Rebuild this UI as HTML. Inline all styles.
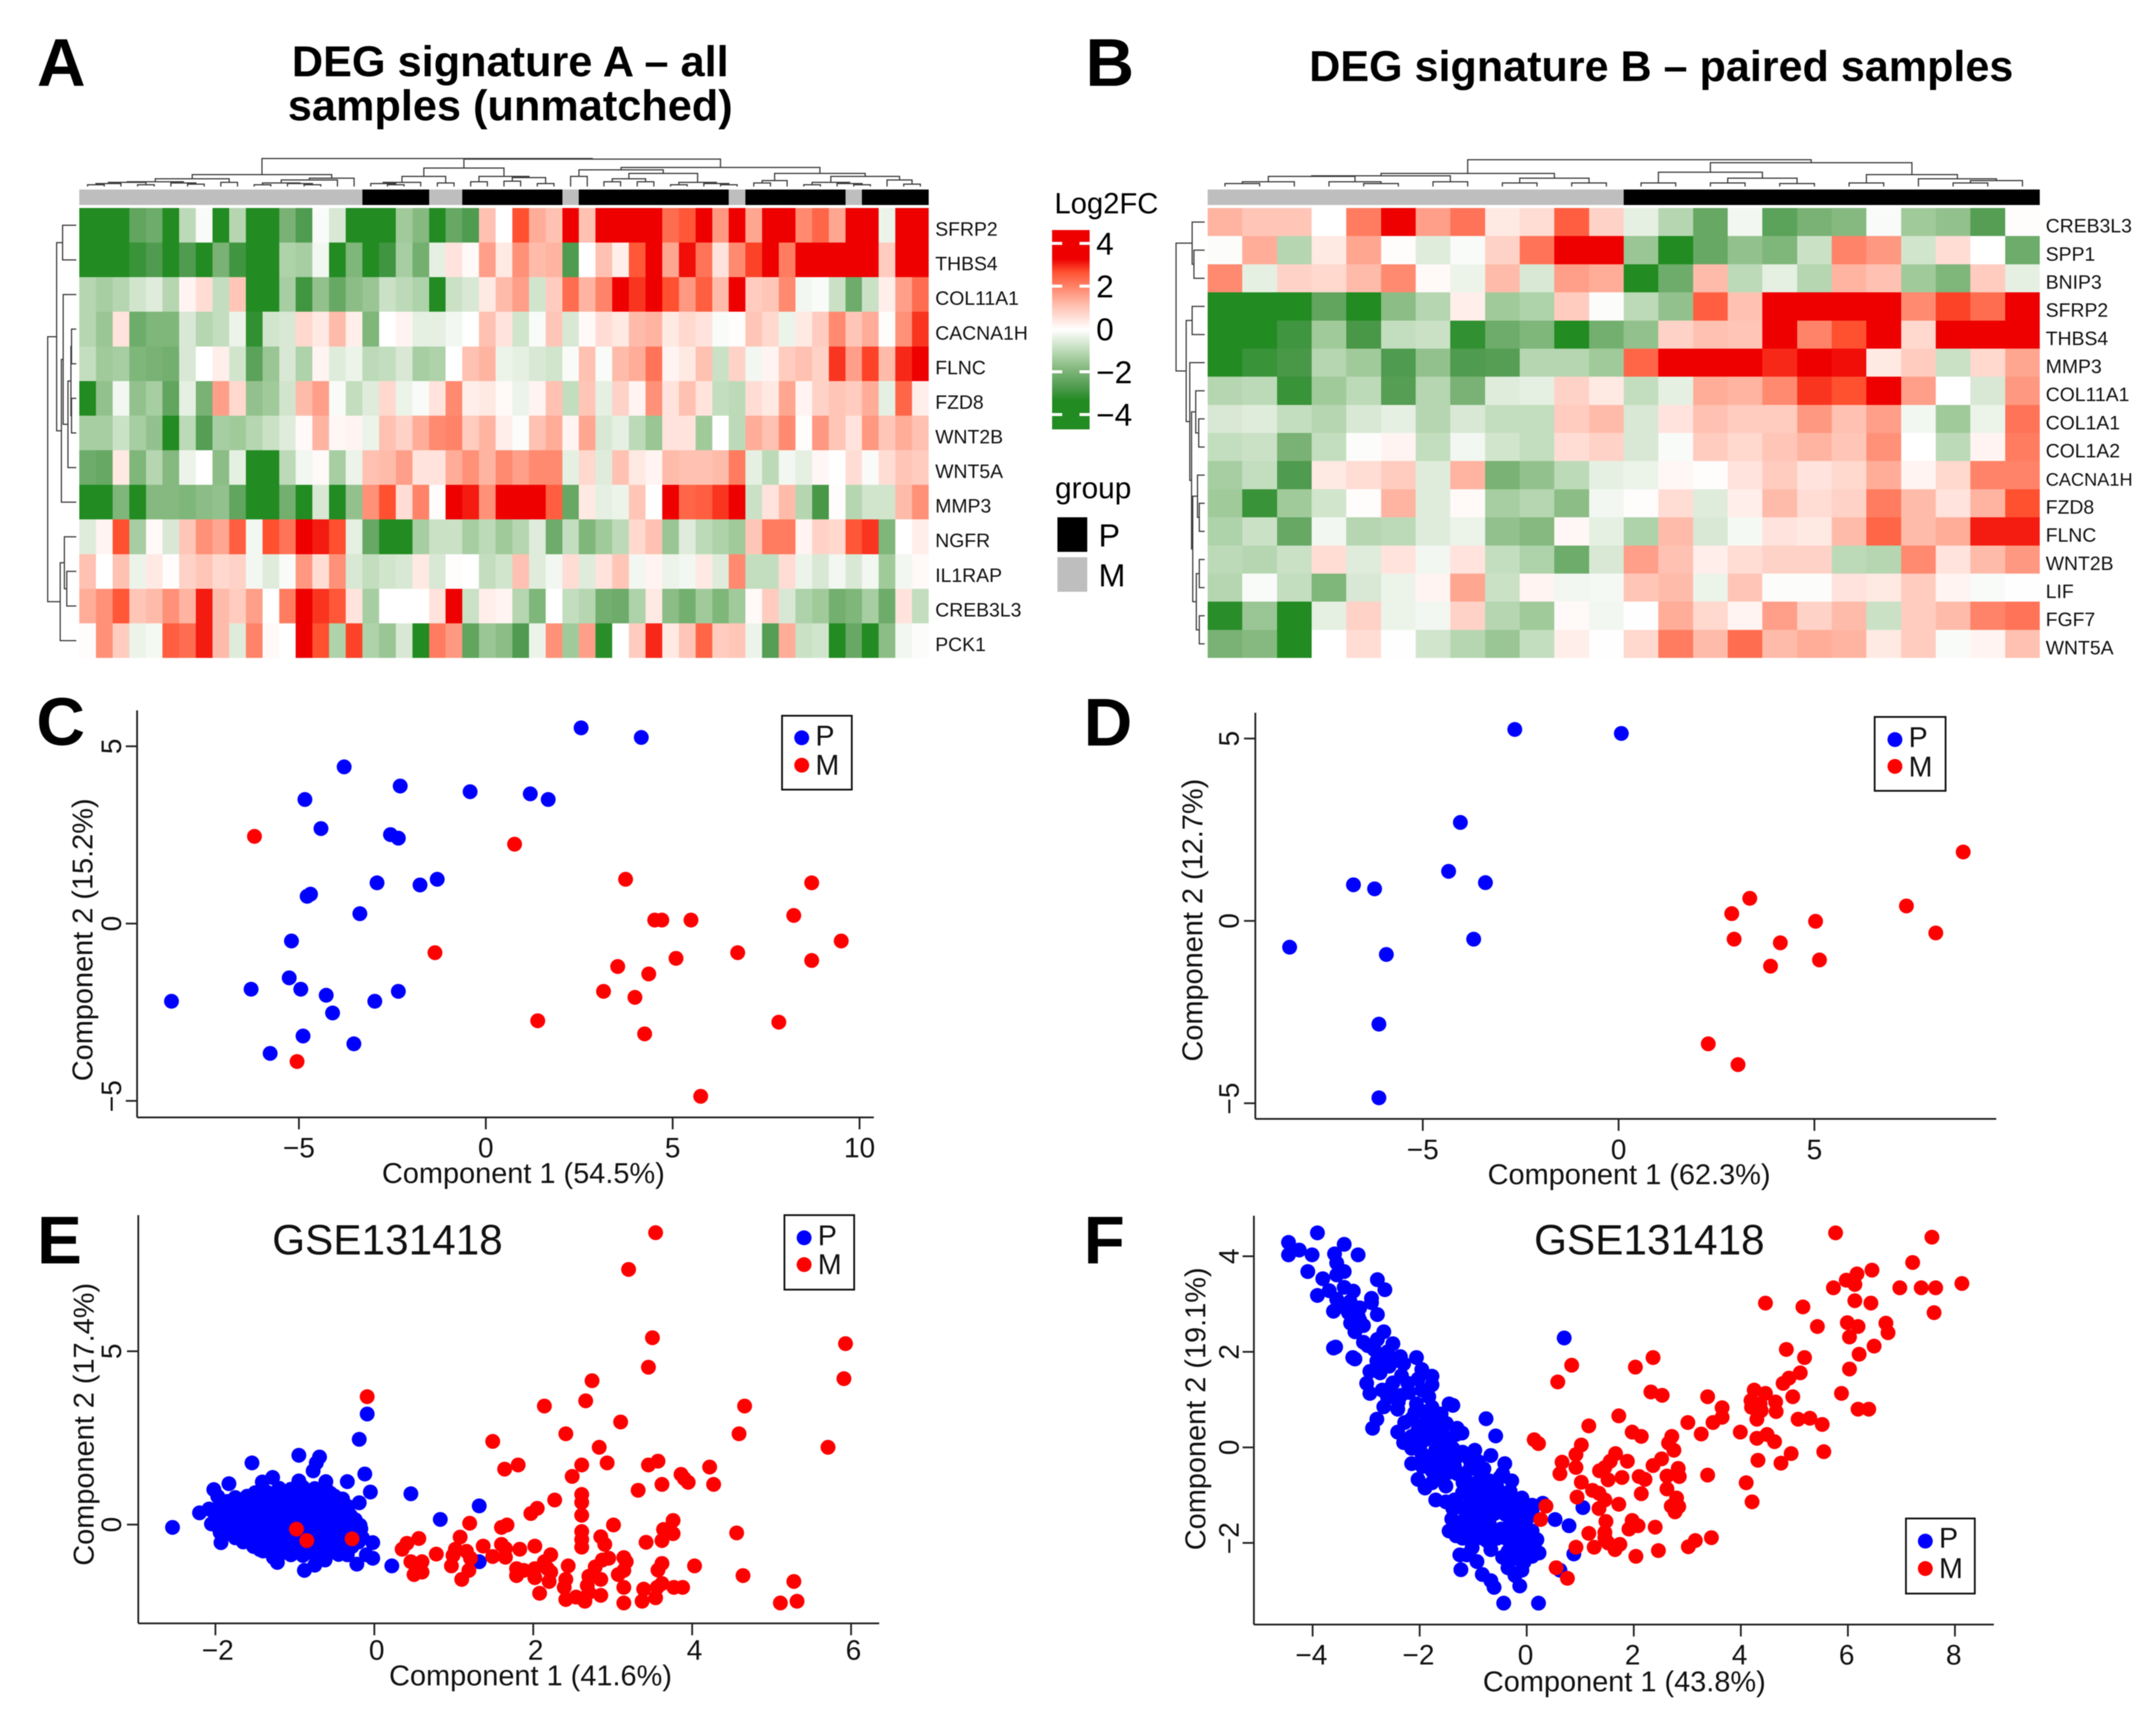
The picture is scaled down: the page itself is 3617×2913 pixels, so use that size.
<!DOCTYPE html>
<html lang="en">
<head>
<meta charset="utf-8">
<title>DEG signature heatmaps and PCA plots</title>
<style>
html,body{margin:0;padding:0;background:#fff;}
svg{display:block;font-family:"Liberation Sans",Arial,sans-serif;filter:blur(.8px);}
</style>
</head>
<body>
<svg id="fig" xmlns="http://www.w3.org/2000/svg" width="3617" height="2913" viewBox="0 0 3617 2913">
<rect width="3617" height="2913" fill="#fff"/>
<g font-weight="bold" font-size="113" fill="#000">
<text x="62" y="144">A</text>
<text x="1821" y="144">B</text>
<text x="61" y="1250">C</text>
<text x="1818" y="1251">D</text>
<text x="62" y="2120">E</text>
<text x="1818" y="2120">F</text>
</g>
<g font-weight="bold" fill="#000" text-anchor="middle">
<text x="856" y="128" font-size="72.6">DEG signature A – all</text>
<text x="856" y="202" font-size="72.6">samples (unmatched)</text>
<text x="2787" y="136" font-size="72.3">DEG signature B – paired samples</text>
</g>
<g fill="#000">
<text x="1769" y="358" font-size="49">Log2FC</text>
<text x="1770" y="836" font-size="50">group</text>
<rect x="1774" y="868" width="50" height="58" fill="#000"/>
<rect x="1774" y="935" width="50" height="58" fill="#bebebe"/>
<text x="1843" y="917" font-size="54">P</text>
<text x="1843" y="984" font-size="54">M</text>
</g>
<g id="layer"></g>
</svg>
<script>
// ---------- Heatmap A data ----------
const aGenes = ["SFRP2","THBS4","COL11A1","CACNA1H","FLNC","FZD8","WNT2B","WNT5A","MMP3","NGFR","IL1RAP","CREB3L3","PCK1"];
const aGroups = "MMMMMMMMMMMMMMMMMPPPPMMPPPPPPMPPPPPPPPPMPPPPPPMPPPP".split("");
const aValues = [
[-3.5,-3.5,-3.5,-2.4,-2.2,-3.5,-1,-.1,-3.5,-1.1,-3.5,-3.5,-2,-2.7,-.1,-.6,-3.5,-3.5,-3.5,-1.4,-1.8,-3.5,-2.3,-2.7,1.1,0,2.7,1.4,1.1,3.6,1.1,3.3,3.6,3.6,3.6,2.3,2.6,3.6,1.7,3.6,1.5,3.6,3.6,1.9,2.4,1.5,3.6,3.5,-.3,3.6,3.6],
[-3.5,-3.5,-3.5,-3,-2.7,-3.5,-2.7,-3.5,-2,-2.9,-3.5,-3.5,-1.2,-1.3,-.2,-3.5,-1.9,-3.5,-2.9,-1.3,-2.1,-.4,.5,.1,1.6,.4,1.8,1.2,1.3,-2.7,0,1.1,.3,2.6,3.6,1.5,3.2,2.2,.5,1.9,2.8,3.6,2.1,3.6,3.6,3.6,3.6,3.6,.9,3.6,3.6],
[-1.1,-1.3,-1.1,-.7,-.5,-1.1,.2,.6,-.9,1,-3.3,-3.5,-1.3,-2.9,-1.6,-2.3,-1.7,-1.5,-.8,-1,-1.2,-3.5,-.8,-.6,.4,1.2,1.6,-.7,.9,2.3,1.3,2,3.6,2.9,3.4,2.7,1.7,2.5,1.2,3.6,.9,1,1.9,-.2,-.1,-.8,-2.2,-.8,.3,1.6,2.3],
[-1.1,-1.5,.5,-2.2,-1.9,-1.9,-.6,-1.1,-.9,-.3,-3.1,-.7,-.6,.7,.4,1.2,.3,-1.9,0,.2,-.4,-.4,-.2,0,1.1,.5,-.7,-.1,1,-.6,.1,.6,.4,1.2,1.3,.4,.7,.5,-.1,.05,1,.7,-.3,.4,.9,1.9,1,1.4,.05,1.8,2.9],
[-.9,-1.4,-1.3,-1.9,-2,-2.1,-.6,0,.3,-.7,-2.5,-1.5,-.6,-1.2,.2,-.5,-.3,-1,-.9,-.6,-1.3,-1.2,0,1.1,1.3,-.3,-.4,-.6,-.7,-.1,1.1,-.1,1.2,1.4,2.2,.2,.4,1.1,-.8,.8,-.2,.2,.9,1.1,.8,2.9,1.6,2.8,1.2,3,3.6],
[-3.5,-1.6,-.2,-1.6,-1.3,-2.4,-.4,-2,1.6,.7,-1.6,-1.4,-.7,1.2,1.6,-.1,-.9,-.5,.7,-.3,-.1,.5,1.9,.3,.4,.1,-.3,.2,1.1,-.9,1,-.4,.8,.2,1.8,.5,1.1,.5,-.9,-1,.6,.4,1.5,.2,.8,1,.9,1.4,-.4,2.4,.3],
[-1.3,-1.3,-.8,-1.3,-1.6,-3.5,-1,-2.6,-1.3,-1.4,-1.1,-.8,-.5,.1,1.3,.15,.2,-.3,1.1,.8,1.4,1.9,2,.9,1.3,.3,-.05,1.1,1.4,.2,1.5,-.6,-.4,-1,-1.5,.5,.5,-1.4,0,-1,1.4,1.1,1.9,.05,1.7,1,.5,1.7,1,1.4,1.1],
[-2.2,-2.3,.4,-1.9,-1.1,-1.8,-.3,0,-1.7,-.4,-3.5,-3.5,-1,-.2,.1,-1.3,-.3,1.1,1.2,1.6,.5,.5,1.4,1.8,1.3,1.9,1.6,1.9,1.9,-.4,.7,-.5,1.1,.4,.2,1.2,1.1,1.1,1.2,2.1,-.4,-1,-.2,-.4,.15,0,.6,-.1,.6,1,.9],
[-3.5,-3.5,-1.9,-3.5,-1.8,-1.8,-1.9,-1.7,-1.6,-2.4,-3.5,-3.5,-2.1,-3.5,-.6,-3.5,-1.6,1.8,2.7,.6,2,.05,3.6,3.1,1.8,3.6,3.6,3.6,2.5,-2.3,.4,-.4,-.3,1,0,3.6,2.4,2.5,2.9,3.6,-.8,.5,1.2,-1.1,-2.8,.05,-1.1,-.7,-.7,1.2,1.8],
[-.5,.2,2.7,-1.3,.1,-.6,1,1.8,1.5,2.5,-.2,2.7,2.2,3.6,3.1,2.7,-.4,-2.3,-3.5,-3.5,-1.3,-.8,-.8,-1.3,-1,-1.4,-1.1,-.5,-2.2,-.9,-1.9,-1.4,-1,.7,1.1,-1.5,-.5,-1,-1.2,-1.4,1,2.1,2.1,.2,.8,.7,2.6,2.9,-1.9,0,.3],
[1.1,0,1.1,-.3,.4,.05,.8,1,.7,.8,-.2,-.5,-.1,1.7,.6,1.8,-.6,-.9,-.7,-.6,.4,-.6,.05,0,-.9,-.7,1.1,-.5,-.2,.6,-.5,.5,1,-.2,.2,-.3,-.2,.4,-.5,1.9,-.9,-.9,.6,-.3,-.6,-.2,-.6,-.2,-1.4,-.2,.1],
[1.4,1.8,2.6,1,1.2,1.8,1.3,3.1,1.2,.9,1.6,0,2.1,3.6,2.9,2.6,.5,-1.3,0,0,0,.5,3.6,-.8,.3,.2,-1.1,-1.9,0,-.9,-1.1,-2.1,-2.2,-1.2,.4,-1.7,-2.1,-1.4,-1.9,-1.4,.1,.9,-.6,-1.2,-1.4,-2.1,-1.9,-1.3,-2.2,.5,-.9],
[.05,1.8,.9,-.3,-.15,2.5,2.3,3.1,1.2,-.5,2,.1,0,3.6,2.7,-1.2,2.8,-1.2,-1.5,-.6,-3.5,2.1,1.7,-2.4,-1.5,-1.7,-2.7,-.3,1.8,-1.4,1.6,-3.2,0,.9,3,.4,1,2.4,.9,1,-.3,-2.6,1.4,-.8,-.7,-3.5,-2.3,-3.5,-1.7,-.2,-.05]
];
// Merge trees: [merge height, left child, right child]; 0 is a leaf.
const aColumnTree = [47,[20,[13,[8,[7,[5,[3,0,0],0],[3,0,0]],[6,0,[4,0,0]]],[7,0,0]],[14,[11,[6,[3,0,0],[5,0,[3,0,0]]],0],0]],[46,[31,[17,[7,[5,0,[3,0,0]],0],[6,0,0]],[17,[8,0,0],[15,[9,0,0],[5,0,0]]]],[32,[28,[17,0,0],[22,[13,[8,0,0],[8,0,0]],[7,[3,0,0],[5,0,[3,0,0]]]]],[22,[10,[6,0,0],0],[17,[7,[3,0,0],[5,0,[3,0,0]]],[11,0,[4,0,0]]]]]]];
const aRowTree = [48,[33,[23,0,0],[25,[22,0,[14,[9,[8,0,0],[8,0,0]],0]],0]],[27,[20,0,[16,0,0]],0]];

// ---------- Heatmap B data ----------
const bGenes = ["CREB3L3","SPP1","BNIP3","SFRP2","THBS4","MMP3","COL11A1","COL1A1","COL1A2","CACNA1H","FZD8","FLNC","WNT2B","LIF","FGF7","WNT5A"];
const bGroups = "MMMMMMMMMMMMPPPPPPPPPPPP".split("");
const bValues = [
[1.3,1,1,0,2.1,3.6,1.6,2.2,.4,.6,2.5,.8,-.4,-1.1,-2.3,-.2,-2.5,-2,-1.8,-.1,-1.4,-1.6,-2.6,.05],
[-.05,1.4,-1.1,.4,1.5,.05,-.5,-.1,.8,2.2,3.6,3.6,-1.5,-3.5,-2.3,-1.6,-1.9,-.8,2,1.7,-.7,.6,0,-2.2],
[1.9,-.4,.8,.7,1.2,1.9,.1,-.3,1.2,-.6,1.6,1.4,-3.5,-2.2,1.2,-1,-.4,-1.1,1.3,1.1,-1.4,-1.9,.9,-.4],
[-3.5,-3.5,-3.5,-2.4,-3.5,-1.7,-1.1,.3,-1.4,-1.2,.9,-.05,-1,-1.6,2.5,1.1,3.6,3.6,3.6,3.6,1.9,2.8,2.3,3.6],
[-3.5,-3.5,-2.9,-1.4,-2.8,-.9,-.8,-3.1,-2.2,-1.9,-3.5,-2.1,-1.6,.8,1.1,1,3.6,2,2.7,3.6,.7,3.6,3.6,3.6],
[-3.5,-3,-2.8,-1.1,-1.4,-2.7,-1.6,-2.7,-2.6,-1.1,-1.1,-1.4,2.4,3.6,3.6,3.6,3,3.6,3.2,.4,.9,-.8,.7,1.5],
[-1.1,-1,-3,-1.4,-1,-2.6,-1.1,-2,-.5,-.4,.8,.4,-.9,-.4,1.4,1.3,1.9,2.9,2.7,3.6,1.6,0,-.6,1.7],
[-.6,-.5,-.9,-1.1,-.6,-.4,-1.1,-.6,-.9,-.9,.9,1.2,-.6,.5,1.1,.9,.9,1.7,1.1,1.6,-.2,-1.4,-.3,2.2],
[-.9,-.8,-2,-.9,-.05,.2,-.9,-.2,-.7,-.9,.6,.8,-.6,-.1,.9,.7,1,1.3,1,1.8,0,-1,.2,2.1],
[-1.3,-.9,-2.7,.4,.6,.9,-.5,1.3,-2,-1.6,-1,-.4,-.3,.15,.05,.5,.9,.5,.7,1.4,.2,.7,2,2],
[-1.4,-3,-1.4,-.7,.05,1.3,-.5,.1,-1.3,-1.1,-1.7,-.2,.05,.6,-.5,.3,1.2,.6,.8,2.1,1.2,.5,1.3,2.7],
[-1.2,-.8,-2.3,-.2,-1.1,-1,-.5,-.3,-1.6,-1.8,.15,-.4,-1.2,1.2,-.6,-.15,.5,.4,1.2,2.4,1.2,1.4,3.1,3.1],
[-1,-1.1,-.8,.6,-.5,.5,-.2,.5,-.9,-1.2,-2.2,-.6,1.6,1.1,.3,.6,.8,.8,-1,-1.1,1.9,.5,1.2,1.7],
[-1.1,-.1,-.9,-1.9,-.6,-.3,.2,1.5,-.8,.2,-.2,-.15,1,1.2,-.3,1,-.05,-.05,.5,.4,.9,.2,-.1,.02],
[-3.2,-1.5,-3.5,-.4,.8,-.3,-.2,.8,-1.1,-1.4,.1,-.2,.02,1.4,.7,.2,1.6,.8,1.2,-.8,.9,1.2,2,2.2],
[-2,-1.8,-3.5,0,.6,.02,-.7,-1.1,-1.5,-.9,.3,-.02,.7,2.1,1.2,2.3,1.2,1.4,1.3,.4,.9,-.1,.2,1.1]
];
const bColumnTree = [45,[22,[18,[17,[8,[5,0,0],0],[8,0,[5,0,0]]],[8,0,0]],[14,[6,0,0],[6,0,0]]],[40,[24,[6,0,0],[14,[6,0,0],[5,0,0]]],[20,[6,0,0],[13,0,[10,[6,0,0],0]]]]];
const bRowTree = [48,[21,0,[18,0,0]],[31,[21,0,0],[25,0,[22,[15,0,[10,0,0]],[20,[12,0,[9,0,0]],[14,[9,0,0],[9,0,0]]]]]]];

// ---------- Colour scale ----------
const colorbarTicks = [4,2,0,-2,-4];

// ---------- PCA C ----------
const cTicksX = [-5,0,5,10];
const cTicksY = [-5,0,5];
const cPrimary = [[2.55,5.52],[4.16,5.25],[-3.79,4.42],[-2.29,3.88],[-.42,3.72],[1.19,3.66],[1.67,3.5],[-4.84,3.5],[-4.41,2.68],[-2.55,2.51],[-2.34,2.41],[-2.91,1.15],[-1.76,1.09],[-1.3,1.25],[-4.69,.83],[-4.78,.77],[-3.37,.28],[-5.2,-.49],[-5.26,-1.53],[-6.28,-1.85],[-4.95,-1.85],[-4.27,-2.02],[-2.34,-1.91],[-2.97,-2.19],[-4.1,-2.52],[-4.89,-3.17],[-3.53,-3.39],[-5.77,-3.66],[-8.41,-2.19]];
const cMetastasis = [[-6.19,2.46],[.77,2.24],[3.74,1.25],[8.72,1.15],[8.24,.23],[4.52,.1],[4.71,.1],[5.49,.1],[9.51,-.49],[6.74,-.82],[-1.36,-.82],[5.09,-.98],[8.72,-1.04],[3.53,-1.21],[4.36,-1.42],[3.15,-1.91],[3.99,-2.08],[1.39,-2.74],[7.84,-2.78],[4.25,-3.11],[-5.05,-3.89],[5.75,-4.87]];

// ---------- PCA D ----------
const dTicksX = [-5,0,5];
const dTicksY = [-5,0,5];
const dPrimary = [[-2.65,5.25],[.07,5.14],[-4.04,2.7],[-4.34,1.36],[-3.4,1.05],[-6.77,.99],[-6.23,.88],[-3.7,-.5],[-8.4,-.72],[-5.93,-.92],[-6.12,-2.83],[-6.12,-4.85]];
const dMetastasis = [[8.8,1.89],[3.35,.62],[2.89,.2],[7.35,.41],[5.03,-.01],[8.1,-.33],[2.95,-.5],[4.13,-.6],[5.13,-1.07],[3.88,-1.24],[2.29,-3.37],[3.05,-3.94]];

// ---------- PCA E ----------
const eTicksX = [-2,0,2,4,6];
const eTicksY = [0,5];
const ePrimary = [[-2.54,-.08],[-.09,3.19],[-.19,2.46],[-.95,2],[-.69,1.95],[-.73,1.78],[-1.54,1.78],[-.77,1.55],[-.12,1.46],[-1.28,1.36],[-.95,1.26],[-1.41,1.23],[-1.83,1.18],[-.61,1.24],[-.34,1.24],[-2.02,1.01],[-1.97,.81],[-.05,.94],[.46,.89],[1.32,.54],[.83,.15],[-.19,.63],[-2.2,.34],[-2.08,.45],[-1.94,-.23],[-1.93,-.52],[-.02,-.52],[-.15,-.38],[1.32,-1.07],[.22,-1.19],[-.22,-1.14],[-.02,-.97],[-.1,-.87],[-.88,-1.32],[-1.22,-1.09],[-1.27,-.95],[-.62,-1.02],[-.75,-1.17],[-1.44,-.72],[-.34,-.87],
[-1.2,1.05],[-1.05,1.02],[-.9,1.08],[-.75,1.04],[-.6,1],[-1.75,.78],[-1.6,.82],[-1.45,.75],[-1.3,.84],[-1.12,.8],[-.97,.76],[-.83,.85],[-.66,.78],[-.5,.82],[-.4,.74],[-1.95,.52],[-1.8,.58],[-1.68,.5],[-1.5,.56],[-1.35,.6],[-1.2,.5],[-1.05,.58],[-.92,.52],[-.75,.6],[-.6,.5],[-.48,.56],[-.33,.52],[-2,.26],[-1.87,.3],[-1.72,.24],[-1.58,.32],[-1.43,.26],[-1.28,.3],[-1.15,.24],[-1,.3],[-.85,.26],[-.7,.32],[-.55,.24],[-.42,.3],[-.3,.26],[-2.05,.02],[-1.9,-.03],[-1.75,.04],[-1.6,-.02],[-1.47,.03],[-1.3,-.04],[-1.17,.02],[-1.02,-.02],[-.88,.04],[-.73,-.03],[-.58,.02],[-.45,-.04],[-.3,.03],[-.18,-.02],[-1.85,-.26],[-1.7,-.22],[-1.55,-.28],[-1.42,-.24],[-1.25,-.27],[-1.1,-.22],[-.95,-.28],[-.8,-.24],[-.67,-.26],[-.52,-.22],[-.38,-.28],[-.23,-.25],[-1.65,-.5],[-1.5,-.47],[-1.37,-.53],[-1.22,-.48],[-1.08,-.52],[-.92,-.47],[-.78,-.53],[-.63,-.49],[-.5,-.52],[-.35,-.47],[-.2,-.5],[-1.4,-.76],[-1.25,-.72],[-1.1,-.77],[-.97,-.73],[-.82,-.78],[-.68,-.73],[-.53,-.77],[-.38,-.73],
[-1.5,.92],[-1.35,.93],[-1.15,.91],[-1,.92],[-.8,.94],[-.55,.9],[-1.85,.67],[-1.7,.66],[-1.55,.68],[-1.25,.67],[-1.1,.69],[-.85,.66],[-.7,.68],[-.55,.67],[-.4,.64],[-2,.42],[-1.8,.43],[-1.62,.41],[-1.45,.42],[-1.27,.44],[-1.12,.41],[-.97,.43],[-.8,.42],[-.65,.41],[-.5,.43],[-.37,.4],[-1.95,.14],[-1.8,.15],[-1.65,.13],[-1.5,.14],[-1.35,.15],[-1.22,.12],[-1.08,.14],[-.93,.15],[-.8,.13],[-.65,.14],[-.5,.15],[-.37,.12],[-.24,.14],[-1.95,-.13],[-1.78,-.12],[-1.62,-.14],[-1.47,-.13],[-1.35,-.12],[-1.18,-.14],[-1.03,-.12],[-.88,-.13],[-.73,-.14],[-.6,-.12],[-.45,-.13],[-.3,-.14],[-.17,-.12],[-1.75,-.38],[-1.6,-.37],[-1.47,-.39],[-1.3,-.38],[-1.15,-.36],[-1,-.38],[-.85,-.39],[-.72,-.37],[-.58,-.38],[-.43,-.36],[-.28,-.38],[-1.52,-.63],[-1.33,-.62],[-1.17,-.64],[-1,-.63],[-.85,-.62],[-.7,-.64],[-.57,-.63],[-.43,-.61],[-.28,-.63],[-1.2,-.88],[-1.05,-.87],[-.9,-.89],[-.75,-.87],[-.6,-.88],[-.45,-.86]];
const eMetastasis = [[3.54,8.42],[3.2,7.36],[3.5,5.39],[5.93,5.22],[3.45,4.54],[5.91,4.21],[2.74,4.15],[2.66,3.57],[4.66,3.42],[2.14,3.42],[-.09,3.69],[3.1,2.96],[2.41,2.62],[4.59,2.62],[1.49,2.4],[5.71,2.23],[2.83,2.23],[3.57,1.83],[3.45,1.72],[2.93,1.78],[2.61,1.72],[1.81,1.72],[1.64,1.6],[4.22,1.66],[2.49,1.39],[3.86,1.45],[3.9,1.33],[3.95,1.22],[4.27,1.16],[3.62,1.16],[3.32,.99],[2.61,.87],[2.61,.64],[2.27,.71],[2.05,.47],[1.97,.32],[2.61,.27],[3.76,.12],[3.01,-.01],[1.67,-.01],[1.6,-.08],[1.2,.04],[3.64,-.14],[3.76,-.26],[4.56,-.24],[2.61,-.2],[2.61,-.43],[2.85,-.35],[3.62,-.46],[3.42,-.51],[2.9,-.57],[2.61,-.65],[1.08,-.36],[.56,-.4],[.41,-.54],[.35,-.71],[.78,-.85],[1.02,-.71],[1.37,-.62],[1.6,-.57],[1.65,-.69],[1.83,-.71],[2.02,-.62],[.99,-.89],[1.16,-.77],[1.21,-.97],[1.49,-.92],[1.65,-.94],[2.22,-.87],[2.14,-1.07],[2.95,-.97],[3.14,-.95],[3.17,-1.07],[2.87,-1.02],[3.62,-1.12],[4.03,-1.19],[.46,-1.07],[.6,-1.07],[2.44,-1.19],[2.78,-1.22],[.97,-1.19],[1.19,-1.32],[.56,-1.32],[.6,-1.37],[.5,-1.44],[1.79,-1.27],[1.88,-1.32],[2.02,-1.27],[2.18,-1.27],[2.22,-1.37],[1.79,-1.47],[2.02,-1.53],[3.14,-1.32],[3.07,-1.44],[3.57,-1.31],[1.1,-1.58],[2.2,-1.64],[2.41,-1.58],[2.7,-1.49],[2.85,-1.58],[4.64,-1.47],[5.28,-1.64],[3.14,-1.81],[2.39,-1.81],[2.68,-1.76],[3.62,-1.7],[3.77,-1.81],[3.88,-1.81],[3.39,-1.86],[3.56,-1.81],[2.08,-1.98],[2.7,-1.96],[2.85,-2.04],[3.54,-2.11],[2.41,-2.16],[2.54,-2.09],[2.65,-2.21],[3.14,-2.26],[3.37,-2.21],[5.11,-2.26],[5.32,-2.21],[-.98,-.13],[-.85,-.46],[-.28,-.41]];

// ---------- PCA F ----------
const fTicksX = [-4,-2,0,2,4,6,8];
const fTicksY = [-2,0,2,4];
const fPrimary = [[-3.91,4.49],[-4.45,4.29],[-4.25,4.13],[-4.45,4.03],[-4.01,4.03],[-3.41,4.25],[-3.59,4.05],[-3.15,4.03],[-3.55,3.86],[-4.09,3.68],[-3.41,3.68],[-3.55,3.61],[-3.81,3.53],[-2.79,3.51],[-3.41,3.35],[-2.65,3.3],[-3.69,3.28],[-3.24,3.27],[-3.91,3.18],[-3.55,3.1],[-2.9,3.12],[-2.9,3.03],[-3.37,2.96],[-3.12,2.92],[-3.61,2.85],[-3.33,2.82],[-2.79,2.78],[-3.12,2.66],[-3.29,2.6],[-3.21,2.42],[-2.67,2.42],[-2.79,2.26],[-2.5,2.17],[-2.97,2.13],[-3.57,2.1],[-3.61,2.08],[-3.25,1.88],[-3.21,1.85],[-2.36,1.9],[-2.06,1.88],[-2.8,1.81],[-2.67,1.85],[-2.57,1.7],[-2.93,1.59],[-2.74,1.56],[-1.96,1.63],[-2.34,1.5],[-1.77,1.49],[-2.03,1.43],[-2.99,1.34],[-2.22,1.34],[-1.77,1.31],[-2.55,1.24],[-1.96,1.2],[-2.93,1.13],[-2.35,1.09],[-1.83,1.06],[-2.06,.91],[-1.45,.91],[-1.38,.88],[-1.77,.84],[-2.67,.85],[-2.41,.8],[-2.09,.73],[-.76,.6],[-2.8,.59],[-2.88,.4],[-2.28,.52],[-.58,.24],[-2.41,.32],[-2.03,.37],[-1.57,.41],[-1.21,.3],[-1.32,.27],[-1.77,.27],[-2.15,.23],[-1.9,.16],[-1.51,.19],[-2.15,-.02],[-1.64,.01],[-1.38,-.02],[-.97,-.06],[-.67,-.17],[-1.96,-.13],[-2.15,-.34],[-1.77,-.24],[-1.45,-.27],[-1.06,-.27],[-.41,-.34],[-1.06,-.45],[-1.77,-.49],[-1.45,-.52],[-.5,-.63],[-2.03,-.67],[-.86,-.63],[-.28,-.7],[-1.77,-.74],[-1.19,-.74],[-.61,-.81],[-1.51,-.81],[-1.9,-.85],[-.86,-.88],[-.31,-.92],[-1.12,-.96],[-1.7,-1.1],[-.67,-1.03],[-1.51,-1.14],[-.09,-1.06],[-1.06,-1.17],[-.48,-1.17],[.3,-1.17],[.1,-1.21],[-.28,-1.24],[-.86,-1.28],[-1.38,-1.28],[-.03,-1.31],[-.61,-1.39],[-1.12,-1.42],[-.28,-1.46],[-1.32,-1.57],[-.86,-1.57],[.53,-1.51],[.79,-1.64],[-1.45,-1.75],[-1.12,-1.71],[-.8,-1.75],[-.48,-1.71],[-.03,-1.71],[-.09,-1.85],[.19,-1.93],[-1.32,-1.85],[-.86,-1.89],[-.41,-1.89],[-.22,-1.96],[-.67,-2.14],[-.03,-2.03],[-1.02,-2.1],[-.35,-2.18],[.23,-2.21],[.1,-2.28],[-.22,-2.32],[-1.25,-2.25],[-1.12,-2.25],[-.93,-2.39],[.88,-2.23],[-.35,-2.52],[-.09,-2.57],[-1.23,-2.56],[-.83,-2.66],[-.22,-2.68],[.62,-2.57],[-.67,-2.79],[-.61,-2.93],[-.13,-2.9],[-.43,-3.26],[.22,-3.26],[.7,2.29],[1.05,-1.26],[-1.9,.5],[-1.7,.5],[-1.5,.5],[-1.3,.4],[-1.65,.15],[-1.85,-.2],[-1.6,-.4],[-1.3,-.55],[-1.2,-.95],[-.95,-1],[-.75,-1.15],[-.55,-1],[-.4,-1.4],[-.15,-1.45],[0,-1.5],[-.95,-1.4],[-.7,-1.6],[-1,-1.85],[-.55,-1.9],[-.3,-1.7],[-.15,-1.9],[.05,-2.1],[-.1,-2.2],[-.45,-2.3],[.05,-1.85],[-1.35,-1.1],[-1.3,-.2],
[-2.5,1.35],[-2.7,1.2],[-2.2,1.15],[-2.4,.95],[-2.6,1.05],[-2.15,.6],[-1.95,.75],[-1.6,.7],[-1.75,.6],[-2.3,.1],[-2,.02],[-1.85,.3],[-1.7,-.05],[-1.55,-.15],[-1.95,-.4],[-1.6,-.65],[-1.35,-.4],[-1.2,-.1],[-1.15,-.55],[-.9,-.3],[-.8,-.45],[-.95,-.75],[-.7,-.7],[-.45,-.55],[-.55,-.85],[-.35,-.95],[-1,-1.1],[-1.25,-1.25],[-.85,-1.1],[-.45,-1.05],[-.2,-1.1],[-.1,-1.2],[.1,-1.35],[-.55,-1.3],[-.75,-1.4],[-1.2,-1.55],[-1.4,-1.5],[-.65,-1.75],[-.3,-1.55],[-.15,-1.65],[-.95,-1.65],[-1.2,-1.9],[-.75,-1.95],[-.3,-2.05],[.15,-2],[-.05,-2.4],[.1,-1.75],[-3.3,3.05],[-3.15,2.75],[-3.05,2.55],[-3.45,2.95],[-3.05,2.2],[-2.85,2.05],[-2.6,2],[-2.5,1.8],[-2.3,1.75]];
const fMetastasis = [[5.77,4.49],[7.57,4.4],[7.21,3.87],[6.45,3.71],[6.17,3.63],[5.97,3.5],[6.13,3.41],[5.73,3.34],[6.97,3.34],[7.37,3.34],[7.64,3.34],[8.13,3.43],[6.13,3.07],[6.43,3.02],[4.46,3.02],[5.16,2.94],[7.61,2.82],[5.99,2.61],[6.19,2.53],[6.71,2.6],[5.43,2.53],[6.75,2.4],[6.03,2.31],[6.49,2.12],[4.85,2.05],[6.21,1.95],[2.36,1.88],[5.19,1.88],[2.03,1.68],[.84,1.72],[6.03,1.64],[5.11,1.56],[.58,1.37],[4.9,1.45],[4.79,1.34],[4.25,1.2],[4.46,1.13],[2.32,1.16],[2.53,1.09],[3.38,1.06],[4.97,1.06],[5.88,1.13],[4.19,.98],[4.36,.91],[4.65,.95],[3.65,.83],[4.2,.84],[4.38,.77],[4.66,.75],[6.19,.8],[6.39,.8],[1.72,.66],[3.65,.63],[4.3,.59],[5.07,.59],[5.29,.61],[5.52,.48],[3.01,.52],[3.48,.52],[1.16,.45],[3.99,.32],[3.26,.28],[1.97,.32],[2.14,.23],[4.3,.19],[4.49,.27],[4.63,.12],[2.71,.23],[2.65,.09],[.14,.16],[.22,.08],[1.02,.05],[2.75,-.06],[5.55,-.09],[4.94,-.13],[.92,-.15],[1.66,-.13],[1.56,-.29],[.66,-.31],[2.52,-.24],[1.88,-.29],[4.32,-.27],[2.36,-.38],[4.75,-.33],[.92,-.42],[1.46,-.42],[1.36,-.49],[.62,-.55],[2.83,-.44],[1.78,-.63],[1.52,-.68],[2.1,-.61],[2.21,-.67],[2.62,-.6],[2.85,-.61],[3.38,-.58],[1.02,-.73],[4.1,-.74],[2.62,-.87],[1.23,-.9],[1.35,-.96],[2.14,-.97],[.94,-1.04],[1.46,-1.1],[2.8,-1.06],[4.21,-1.14],[1.72,-1.19],[2.7,-1.23],[2.84,-1.24],[1.35,-1.28],[2.77,-1.35],[.36,-1.23],[.26,-1.51],[1.48,-1.55],[1.97,-1.53],[1.91,-1.71],[2.08,-1.64],[2.4,-1.67],[1.16,-1.8],[1.46,-1.78],[1.46,-1.89],[3.45,-1.89],[3.15,-1.95],[1.52,-2],[1.74,-2.03],[.92,-2.09],[1.26,-2.09],[1.65,-2.14],[3.02,-2.08],[2.46,-2.16],[2.04,-2.28],[.55,-2.52],[.76,-2.74]];

const NS = "http://www.w3.org/2000/svg";
const layer = document.getElementById("layer");
function make(tag, attrs, parent){
  const el = document.createElementNS(NS, tag);
  for (const k in attrs) el.setAttribute(k, attrs[k]);
  (parent || layer).appendChild(el);
  return el;
}
function fmt(v){ return v < 0 ? "\u2212" + Math.abs(v) : String(v); }

const posStops = [[0,[255,255,255]],[.5,[255,227,220]],[1.2,[255,187,170]],[1.9,[255,138,112]],[2.7,[255,80,48]],[3.3,[238,0,0]]];
const negStops = [[0,[255,255,255]],[.6,[216,232,212]],[1,[188,218,183]],[1.8,[133,185,127]],[2.7,[79,155,79]],[3.3,[34,139,34]]];
function colorOf(v){
  const stops = v >= 0 ? posStops : negStops;
  const a = Math.min(Math.abs(v), 3.3);
  for (let i = 1; i < stops.length; i++){
    if (a <= stops[i][0]){
      const t = (a - stops[i-1][0]) / (stops[i][0] - stops[i-1][0]);
      const c = stops[i-1][1].map((s, j) => Math.round(s + (stops[i][1][j] - s) * t));
      return "rgb(" + c.join(",") + ")";
    }
  }
  return "rgb(" + stops[stops.length-1][1].join(",") + ")";
}

function drawTree(tree, horizontal, base, startPos, step, parent){
  let leaf = 0;
  const unit = v => base - v;
  function walk(node){
    if (!Array.isArray(node)) { const p = startPos + step * (leaf + .5); leaf++; return {pos:p, h:0}; }
    const a = walk(node[1]);
    const b = walk(node[2]);
    const h = node[0];
    const d = horizontal
      ? "M" + a.pos + " " + unit(a.h) + "V" + unit(h) + "H" + b.pos + "V" + unit(b.h)
      : "M" + unit(a.h) + " " + a.pos + "H" + unit(h) + "V" + b.pos + "H" + unit(b.h);
    const el = make("path", {d:d, fill:"none", stroke:"#3a3a3a", "stroke-width":2}, parent);
    
    
    return {pos:(a.pos + b.pos) / 2, h:h};
  }
  walk(tree);
}

function drawHeatmap(cfg){
  const g = make("g", {});
  
  
  const rows = cfg.values.length, cols = cfg.values[0].length;
  const cw = cfg.width / cols, rh = cfg.height / rows;
  cfg.groups.forEach((grp, i) => {
    const a = make("rect", {x:cfg.x + i * cw, y:318, width:cw, height:26, fill:grp === "P" ? "#000" : "#bebebe", "shape-rendering":"crispEdges"}, g);
    
    
  });
  cfg.values.forEach((row, r) => {
    row.forEach((v, c) => {
      const cell = make("rect", {x:cfg.x + c * cw, y:cfg.y + r * rh, width:cw, height:rh, fill:colorOf(v), "shape-rendering":"crispEdges"}, g);
      
      
    });
    const size = cfg.narrowGene === cfg.genes[r] ? 30.5 : 32.5;
    const t = make("text", {x:cfg.labelX, y:cfg.y + (r + .5) * rh + 17.5, "font-size":size, fill:"#111"}, g);
    t.textContent = cfg.genes[r];
    
    
  });
  drawTree(cfg.colTree, true, 313, cfg.x, cw, g);
  drawTree(cfg.rowTree, false, cfg.x - 5, cfg.y, rh, g);
}

drawHeatmap({name:"heatmap-a", x:133, y:349, width:1425, height:755, labelX:1569, values:aValues, genes:aGenes, groups:aGroups, colTree:aColumnTree, rowTree:aRowTree});
drawHeatmap({name:"heatmap-b", x:2026, y:349, width:1396, height:755, labelX:3432, values:bValues, genes:bGenes, groups:bGroups, colTree:bColumnTree, rowTree:bRowTree, narrowGene:"CACNA1H"});

// colour bar
(function(){
  const g = make("g", {});
  
  
  const yOf = v => 552 - v * 35.9;
  for (let y = 386; y < 720; y += 2){
    const s = make("rect", {x:1765, y:y, width:63, height:2.4, fill:colorOf((552 - y) / 35.9), "shape-rendering":"crispEdges"}, g);
    
    
  }
  colorbarTicks.forEach(v => {
    if (v !== 0){
      [1765, 1811].forEach(x => {
        const m = make("rect", {x:x, y:yOf(v) - 2.5, width:17, height:5, fill:"#fff"}, g);
        
        
      });
    }
    const t = make("text", {x:1839, y:yOf(v) + 19, "font-size":53, fill:"#000"}, g);
    t.textContent = fmt(v);
    
    
  });
})();

function drawScatter(c){
  const g = make("g", {});
  
  
  const sx = v => c.x0 + v * c.kx;
  const sy = v => c.y0 - v * c.ky;
  const line = (x1, y1, x2, y2, name) => {
    const l = make("line", {x1:x1, y1:y1, x2:x2, y2:y2, stroke:"#222", "stroke-width":3}, g);
    
    
  };
  line(c.axisX, c.axisTop, c.axisX, c.axisY, 'y-axis-line');
  line(c.axisLeft, c.axisY, c.axisRight, c.axisY, 'x-axis-line');
  c.ticksX.forEach(v => {
    line(sx(v), c.axisY, sx(v), c.axisY + 20, 'x-axis-tick');
    const t = make("text", {x:sx(v) + c.tickShift, y:c.tickBaseX, "font-size":47, "text-anchor":"middle", fill:"#111"}, g);
    t.textContent = fmt(v);
    
    
  });
  c.ticksY.forEach(v => {
    line(c.axisX - 19, sy(v), c.axisX, sy(v), 'y-axis-tick');
    const t = make("text", {x:c.tickBaseY, y:sy(v) - (v < 0 ? 8 : 0), "font-size":47, "text-anchor":"middle", fill:"#111", transform:"rotate(-90 " + c.tickBaseY + " " + (sy(v) - (v < 0 ? 8 : 0)) + ")"}, g);
    t.textContent = fmt(v);
    
    
  });
  const xl = make("text", {x:c.xLabelX, y:c.xLabelY, "font-size":48.5, "text-anchor":"middle", fill:"#111"}, g);
  xl.textContent = c.xLabel;
  
  
  const yl = make("text", {x:c.yLabelX, y:c.yLabelY, "font-size":48.5, "text-anchor":"middle", fill:"#111", transform:"rotate(-90 " + c.yLabelX + " " + c.yLabelY + ")"}, g);
  yl.textContent = c.yLabel;
  
  
  c.primary.forEach(p => {
    const d = make("circle", {cx:sx(p[0]), cy:sy(p[1]), r:12.5, fill:"#0000ff"}, g);
    
    
  });
  c.metastasis.forEach(p => {
    const d = make("circle", {cx:sx(p[0]), cy:sy(p[1]), r:12.5, fill:"#ff0000"}, g);
    
    
  });
  const lg = make("g", {}, g);
  
  
  const L = c.legend;
  const box = make("rect", {x:L.x, y:L.y, width:L.w, height:L.h, fill:"#fff", stroke:"#111", "stroke-width":3}, lg);
  
  
  [["P","#0000ff",L.d1,L.b1],["M","#ff0000",L.d2,L.b2]].forEach(e => {
    const m = make("circle", {cx:L.dx, cy:e[2], r:12.5, fill:e[1]}, lg);
    
    
    const t = make("text", {x:L.tx, y:e[3], "font-size":48, fill:"#111"}, lg);
    t.textContent = e[0];
    
    
  });
  if (c.title){
    const t = make("text", {x:c.title.x, y:c.title.y, "font-size":71, "text-anchor":"middle", fill:"#111"}, g);
    t.textContent = c.title.text;
    
    
  }
}

drawScatter({name:"pca-c", x0:815, kx:62.7, y0:1549.8, ky:59.5, axisX:230, axisTop:1192, axisY:1875, axisLeft:230, axisRight:1466, ticksX:cTicksX, ticksY:cTicksY, tickShift:0, tickBaseX:1942, tickBaseY:203, xLabel:"Component 1 (54.5%)", xLabelX:878, xLabelY:1985, yLabel:"Component 2 (15.2%)", yLabelX:155, yLabelY:1577, primary:cPrimary, metastasis:cMetastasis, legend:{x:1312,y:1201,w:117,h:124,dx:1345,d1:1238,d2:1284,tx:1368,b1:1251,b2:1300}});
drawScatter({name:"pca-d", x0:2715.4, kx:65.7, y0:1545.3, ky:61.2, axisX:2106, axisTop:1196, axisY:1877.5, axisLeft:2106, axisRight:3349, ticksX:dTicksX, ticksY:dTicksY, tickShift:0, tickBaseX:1945, tickBaseY:2078, xLabel:"Component 1 (62.3%)", xLabelX:2733, xLabelY:1987, yLabel:"Component 2 (12.7%)", yLabelX:2017, yLabelY:1544, primary:dPrimary, metastasis:dMetastasis, legend:{x:3145,y:1203,w:119,h:124,dx:3179,d1:1241,d2:1286,tx:3202,b1:1253.5,b2:1303}});
drawScatter({name:"pca-e", x0:628, kx:133.3, y0:2558.3, ky:58.18, axisX:232, axisTop:2039, axisY:2724, axisLeft:232, axisRight:1475, ticksX:eTicksX, ticksY:eTicksY, tickShift:4, tickBaseX:2785, tickBaseY:203, xLabel:"Component 1 (41.6%)", xLabelX:890, xLabelY:2828, yLabel:"Component 2 (17.4%)", yLabelX:157, yLabelY:2390, primary:ePrimary, metastasis:eMetastasis, legend:{x:1316,y:2039,w:117,h:125,dx:1349,d1:2077,d2:2122,tx:1372,b1:2089.5,b2:2138}, title:{x:650,y:2105,text:"GSE131418"}});
drawScatter({name:"pca-f", x0:2561.3, kx:89.8, y0:2428.7, ky:80.17, axisX:2103.6, axisTop:2040, axisY:2726, axisLeft:2103.6, axisRight:3345, ticksX:fTicksX, ticksY:fTicksY, tickShift:-2, tickBaseX:2793, tickBaseY:2078, xLabel:"Component 1 (43.8%)", xLabelX:2725, xLabelY:2838, yLabel:"Component 2 (19.1%)", yLabelX:2022, yLabelY:2364, primary:fPrimary, metastasis:fMetastasis, legend:{x:3197.5,y:2548,w:115.5,h:126,dx:3230,d1:2586,d2:2632,tx:3253,b1:2597,b2:2648}, title:{x:2767,y:2105,text:"GSE131418"}});
</script>
</body>
</html>
